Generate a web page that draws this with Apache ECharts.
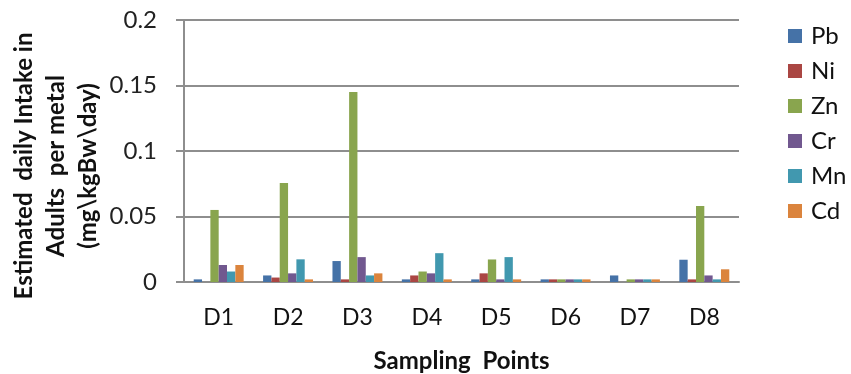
<!DOCTYPE html>
<html>
<head>
<meta charset="utf-8">
<script src="https://cdn.jsdelivr.net/npm/echarts@6/dist/echarts.min.js"></script>
<style>
html,body{margin:0;padding:0;background:#fff;}
#main{width:851px;height:374px;}
</style>
</head>
<body>
<div id="main"></div>
<script>
const categories = ['D1','D2','D3','D4','D5','D6','D7','D8'];
const Pb = [0.002, 0.005, 0.016, 0.002, 0.002, 0.002, 0.005, 0.017];
const Ni = [0, 0.0034, 0.002, 0.005, 0.0066, 0.002, 0, 0.002];
const Zn = [0.055, 0.0755, 0.145, 0.008, 0.0172, 0.002, 0.002, 0.058];
const Cr = [0.013, 0.0066, 0.019, 0.0066, 0.002, 0.002, 0.002, 0.005];
const Mn = [0.008, 0.0173, 0.005, 0.022, 0.019, 0.002, 0.002, 0.002];
const Cd = [0.013, 0.002, 0.0066, 0.002, 0.002, 0.002, 0.002, 0.0097];
const yTicks = [0, 0.05, 0.1, 0.15, 0.2];

const seriesDefs = [
  {name:'Pb', data:Pb, color:'#4572A7'},
  {name:'Ni', data:Ni, color:'#AA4643'},
  {name:'Zn', data:Zn, color:'#89A54E'},
  {name:'Cr', data:Cr, color:'#71588F'},
  {name:'Mn', data:Mn, color:'#4198AF'},
  {name:'Cd', data:Cd, color:'#DB843D'}
];

const font = 'Lato, "Noto Sans", sans-serif';
const chart = echarts.init(document.getElementById('main'));
chart.setOption({
  animation:false,
  textStyle:{fontFamily:font},
  grid:{left:184, right:112, top:20, bottom:92, containLabel:false, outerBoundsMode:'none'},
  legend:{
    orient:'vertical', left:783, top:19,
    itemWidth:14, itemHeight:14, itemGap:11,
    icon:'rect',
    textStyle:{fontSize:24, color:'#111', fontFamily:font, lineHeight:21, padding:[0,0,0,4]},
    data:seriesDefs.map(s=>s.name)
  },
  xAxis:{
    type:'category', data:categories,
    axisLine:{lineStyle:{color:'#8e8e8e', width:2}},
    axisTick:{show:false},
    axisLabel:{fontSize:23, color:'#111', margin:24, fontFamily:font},
    name:'Sampling  Points', nameLocation:'middle', nameGap:67, nameMoveOverlap:false,
    nameTextStyle:{fontSize:24, fontWeight:'bold', color:'#111', fontFamily:font}
  },
  yAxis:{
    type:'value', min:0, max:0.2, interval:0.05,
    axisLine:{show:true, lineStyle:{color:'#8e8e8e', width:2}},
    axisTick:{show:true, inside:false, length:8, lineStyle:{color:'#8e8e8e', width:2}},
    splitLine:{lineStyle:{color:'#8e8e8e', width:2}},
    axisLabel:{fontSize:24, color:'#222', margin:27, fontFamily:font,
      formatter:v=>{ const t = yTicks.find(x=>Math.abs(x-v)<1e-9); return t===undefined? '' : String(t); }},
    name:'Estimated  daily Intake in\nAdults  per metal\n(mg\\kgBw\\day)',
    nameLocation:'middle', nameGap:80, nameRotate:90, nameMoveOverlap:false,
    nameTextStyle:{fontSize:24, fontWeight:'bold', color:'#111', lineHeight:32, fontFamily:font, align:'center', padding:[0,30,0,0]}
  },
  series:seriesDefs.map(s=>({
    name:s.name, type:'bar', data:s.data,
    barGap:'0%', barCategoryGap:'28%',
    itemStyle:{color:s.color}
  }))
});
</script>
</body>
</html>
